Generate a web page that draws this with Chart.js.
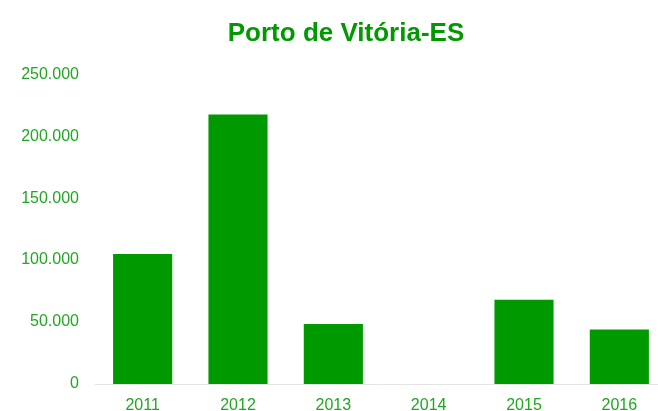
<!DOCTYPE html>
<html lang="pt-BR">
<head>
<meta charset="utf-8">
<title>Porto de Vitória-ES</title>
<script src="https://cdn.jsdelivr.net/npm/chart.js@4/dist/chart.umd.min.js"></script>
<style>
  html, body { margin: 0; padding: 0; background: #fff; overflow: hidden; }
  #wrap { width: 692px; height: 411px; }
</style>
</head>
<body>
<div id="wrap"><canvas id="chart" width="692" height="411"></canvas></div>
<script>
/* global Chart */

const years = ["2011", "2012", "2013", "2014", "2015", "2016"];
const tonnes = [105000, 217500, 48500, 0, 68000, 44000];
const yTicks = [0, 50000, 100000, 150000, 200000, 250000];
const titleText = "Porto de Vitória-ES";

const GREEN = "#009900";
const LABEL_GREEN = "#1fa81f";
const FONT = "'Liberation Sans', Arial, sans-serif";

function formatThousands(v) {
  return String(v).replace(/\B(?=(\d{3})+(?!\d))/g, ".");
}

// the built-in title keeps the space; this draws it centred on the full canvas
const centredTitle = {
  id: "centredTitle",
  afterDraw(chart) {
    const c = chart.ctx;
    c.save();
    c.fillStyle = GREEN;
    c.font = `bold 26px ${FONT}`;
    c.textAlign = "center";
    c.textBaseline = "middle";
    c.fillText(titleText, chart.width / 2, 34);
    c.restore();
  },
};

const ctx = document.getElementById("chart").getContext("2d");
new Chart(ctx, {
  type: "bar",
  data: {
    labels: years,
    datasets: [
      {
        label: titleText,
        data: tonnes,
        backgroundColor: GREEN,
        borderWidth: 0,
        barPercentage: 0.62,
        categoryPercentage: 1,
      },
    ],
  },
  options: {
    responsive: false,
    animation: false,
    layout: { padding: { left: 0, right: 25, top: 0, bottom: 0 } },
    plugins: {
      legend: { display: false },
      tooltip: { enabled: false },
      title: {
        display: true,
        text: titleText,
        color: "rgba(0,0,0,0)",
        font: { family: FONT, size: 26, weight: "bold" },
        padding: { top: 17, bottom: 26 },
      },
    },
    scales: {
      x: {
        grid: { display: false, drawTicks: false },
        border: { display: true, color: "#e4e4e4", width: 1 },
        ticks: {
          color: LABEL_GREEN,
          font: { family: FONT, size: 16 },
          padding: 12,
          maxRotation: 0,
        },
        afterFit: (scale) => { scale.height = 27; },
      },
      y: {
        min: 0,
        max: 250000,
        grid: { display: false, drawTicks: false },
        border: { display: false },
        afterBuildTicks: (scale) => { scale.ticks = yTicks.map((v) => ({ value: v })); },
        ticks: {
          color: LABEL_GREEN,
          font: { family: FONT, size: 16 },
          padding: 16,
          callback: (v) => formatThousands(v),
        },
        afterFit: (scale) => { scale.width = 95; },
      },
    },
  },
  plugins: [centredTitle],
});
</script>
</body>
</html>
